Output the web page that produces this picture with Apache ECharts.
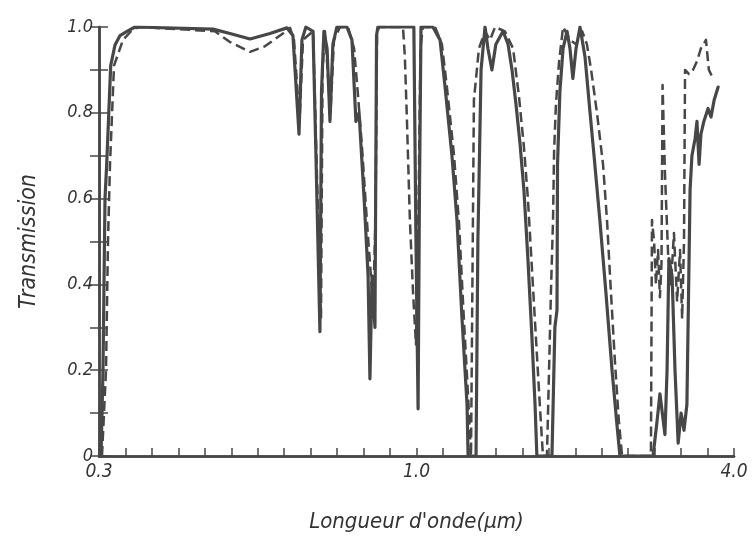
<!DOCTYPE html>
<html>
<head>
<meta charset="utf-8">
<title>Transmission</title>
<script src="https://cdn.jsdelivr.net/npm/echarts@6/dist/echarts.min.js"></script>
<style>
  html, body { margin: 0; padding: 0; background: #ffffff; }
  #chart { width: 752px; height: 540px; }
</style>
</head>
<body>
<div id="chart"></div>
<script>
// Wavelength axis: 24 equal graduations, labelled at 0, 12 and 24.
var xTickLabels = { 0: '0.3', 12: '1.0', 24: '4.0' };
var yTickLabels = ['0', '0.2', '0.4', '0.6', '0.8', '1.0'];

// Solid curve: [graduation, transmission]
var solidCurve = [
  [0.076, 0], [0.151, 0.2], [0.189, 0.4], [0.227, 0.6], [0.291, 0.68],
  [0.442, 0.91], [0.605, 0.958], [0.794, 0.98], [1.058, 0.99], [1.36, 1.0],
  [4.31, 0.995], [4.95, 0.985], [5.71, 0.972], [6.46, 0.985], [7.10, 0.998],
  [7.33, 0.98], [7.56, 0.75], [7.67, 0.97], [7.82, 1.0], [8.09, 0.99],
  [8.20, 0.70], [8.35, 0.29], [8.41, 0.85], [8.50, 0.99], [8.62, 0.95],
  [8.73, 0.78], [8.84, 0.96], [8.99, 1.0], [9.37, 1.0], [9.56, 0.97],
  [9.71, 0.78], [9.83, 0.80], [10.02, 0.60], [10.17, 0.42], [10.24, 0.18],
  [10.32, 0.42], [10.43, 0.30], [10.49, 0.98], [10.54, 1.0], [11.90, 1.0],
  [11.98, 0.5], [12.06, 0.11], [12.11, 0.6], [12.17, 1.0], [12.62, 1.0],
  [12.89, 0.97], [13.08, 0.86], [13.34, 0.70], [13.53, 0.55], [13.72, 0.32],
  [13.91, 0.12], [13.95, 0], [14.25, 0], [14.32, 0.5], [14.44, 0.9],
  [14.59, 1.0], [14.70, 0.95], [14.85, 0.90], [15.00, 0.96], [15.27, 0.99],
  [15.46, 0.96], [15.61, 0.90], [15.76, 0.82], [15.91, 0.73], [16.06, 0.62],
  [16.21, 0.46], [16.36, 0.28], [16.48, 0.12], [16.55, 0], [17.12, 0],
  [17.23, 0.30], [17.31, 0.34], [17.33, 0.68], [17.42, 0.85], [17.54, 0.95],
  [17.69, 0.99], [17.80, 0.95], [17.91, 0.88], [18.03, 0.95], [18.18, 1.0],
  [18.37, 0.93], [18.56, 0.80], [18.71, 0.70], [18.93, 0.55], [19.16, 0.38],
  [19.39, 0.20], [19.58, 0.07], [19.69, 0], [20.94, 0], [21.09, 0.08],
  [21.20, 0.145], [21.39, 0.05], [21.47, 0.2], [21.54, 0.46], [21.66, 0.42],
  [21.77, 0.2], [21.89, 0.03], [22.00, 0.10], [22.11, 0.06], [22.22, 0.12],
  [22.34, 0.62], [22.41, 0.70], [22.53, 0.74], [22.60, 0.78], [22.68, 0.68],
  [22.75, 0.75], [22.86, 0.78], [23.02, 0.81], [23.13, 0.79], [23.25, 0.83],
  [23.40, 0.86]
];

// Dashed curve: [graduation, transmission]
var dashedCurve = [
  [0.113, 0], [0.265, 0.2], [0.34, 0.5], [0.416, 0.68], [0.567, 0.91],
  [0.907, 0.97], [1.285, 0.995], [1.55, 1.0], [4.38, 0.99], [4.95, 0.965],
  [5.71, 0.942], [6.27, 0.955], [6.95, 0.985], [7.22, 0.998], [7.37, 0.97],
  [7.58, 0.78], [7.71, 0.97], [8.09, 0.99], [8.24, 0.65], [8.39, 0.32],
  [8.45, 0.9], [8.54, 0.99], [8.75, 0.80], [8.88, 0.97], [9.11, 1.0],
  [9.41, 1.0], [9.64, 0.95], [9.79, 0.84], [9.94, 0.72], [10.09, 0.58],
  [10.24, 0.45], [10.36, 0.35], [10.45, 0.55], [10.51, 0.98], [10.58, 1.0],
  [11.49, 1.0], [11.56, 0.93], [11.64, 0.78], [11.75, 0.55], [11.87, 0.38],
  [11.98, 0.26], [12.07, 0.55], [12.15, 0.95], [12.24, 1.0], [12.70, 1.0],
  [12.96, 0.96], [13.15, 0.86], [13.42, 0.70], [13.61, 0.54], [13.79, 0.32],
  [13.95, 0.14], [14.06, 0], [14.13, 0], [14.17, 0.83], [14.36, 0.95],
  [14.59, 0.99], [14.78, 0.97], [14.97, 1.0], [15.34, 0.99], [15.65, 0.95],
  [15.87, 0.84], [16.06, 0.72], [16.21, 0.60], [16.36, 0.44], [16.51, 0.28],
  [16.66, 0.12], [16.78, 0], [16.93, 0], [17.01, 0.2], [17.08, 0.38],
  [17.16, 0.55], [17.20, 0.71], [17.27, 0.82], [17.39, 0.92], [17.54, 1.0],
  [17.80, 0.97], [18.03, 0.96], [18.26, 0.99], [18.44, 0.96], [18.60, 0.90],
  [18.82, 0.80], [19.05, 0.68], [19.20, 0.55], [19.35, 0.38], [19.50, 0.22],
  [19.65, 0.08], [19.77, 0], [20.86, 0], [20.90, 0.55], [20.98, 0.50],
  [21.05, 0.40], [21.13, 0.48], [21.20, 0.37], [21.26, 0.45], [21.30, 0.865],
  [21.39, 0.66], [21.51, 0.47], [21.62, 0.40], [21.73, 0.52], [21.85, 0.36],
  [21.96, 0.48], [22.04, 0.32], [22.11, 0.50], [22.15, 0.90], [22.30, 0.89],
  [22.45, 0.90], [22.60, 0.92], [22.75, 0.95], [22.94, 0.97], [23.05, 0.90],
  [23.21, 0.88]
];

var ink = '#474747';
var textColor = '#333333';
var fontFamily = "'DejaVu Sans Condensed', 'Liberation Sans Narrow', 'DejaVu Sans', sans-serif";

var chart = echarts.init(document.getElementById('chart'), null, { renderer: 'canvas' });

var frameLine = { show: true, lineStyle: { color: ink, width: 2.5 } };

chart.setOption({
  backgroundColor: '#ffffff',
  animation: false,
  grid: { left: 99, right: 18, top: 27, bottom: 84, containLabel: false },
  xAxis: [
    {
      type: 'value', min: 0, max: 24, interval: 1, position: 'bottom',
      name: "Longueur d'onde(µm)", nameLocation: 'middle', nameGap: 55,
      nameTextStyle: { fontFamily: fontFamily, fontStyle: 'italic', fontSize: 22, color: textColor },
      axisLine: frameLine,
      axisTick: { show: true, inside: true, length: 8, lineStyle: { color: ink, width: 1.5 } },
      axisLabel: {
        show: true, margin: 7, fontFamily: fontFamily, fontStyle: 'italic', fontSize: 19, color: textColor,
        showMinLabel: true, showMaxLabel: true,
        formatter: function (v) { var k = Math.round(v); return xTickLabels[k] !== undefined ? xTickLabels[k] : ''; }
      },
      splitLine: { show: false }
    },
    {
      type: 'value', min: 0, max: 24, position: 'top',
      axisLine: frameLine, axisTick: { show: false }, axisLabel: { show: false }, splitLine: { show: false }
    }
  ],
  yAxis: [
    {
      type: 'value', min: 0, max: 1, interval: 0.1, position: 'left',
      name: 'Transmission', nameLocation: 'middle', nameGap: 58, nameRotate: 90,
      nameTextStyle: { fontFamily: fontFamily, fontStyle: 'italic', fontSize: 23, color: textColor },
      axisLine: frameLine,
      axisTick: { show: true, inside: true, length: 9, lineStyle: { color: ink, width: 1.5 } },
      axisLabel: {
        show: true, margin: 6, fontFamily: fontFamily, fontStyle: 'italic', fontSize: 18, color: textColor,
        showMinLabel: true, showMaxLabel: true,
        formatter: function (v) {
          var k = Math.round(v * 10);
          return k % 2 === 0 ? yTickLabels[k / 2] : '';
        }
      },
      splitLine: { show: false }
    },
    {
      type: 'value', min: 0, max: 1, interval: 0.1, position: 'right',
      axisLine: frameLine,
      axisTick: { show: true, inside: true, length: 9, lineStyle: { color: ink, width: 1.5 } },
      axisLabel: { show: false }, splitLine: { show: false }
    }
  ],
  series: [
    {
      name: 'solid', type: 'line', data: solidCurve, xAxisIndex: 0, yAxisIndex: 0,
      showSymbol: false, symbol: 'none', smooth: false, clip: true,
      lineStyle: { color: ink, width: 3.2, type: 'solid', join: 'round', cap: 'round' }
    },
    {
      name: 'dashed', type: 'line', data: dashedCurve, xAxisIndex: 0, yAxisIndex: 0,
      showSymbol: false, symbol: 'none', smooth: false, clip: true,
      lineStyle: { color: ink, width: 2.5, type: [10, 5], join: 'round' }
    }
  ]
});
</script>
</body>
</html>
